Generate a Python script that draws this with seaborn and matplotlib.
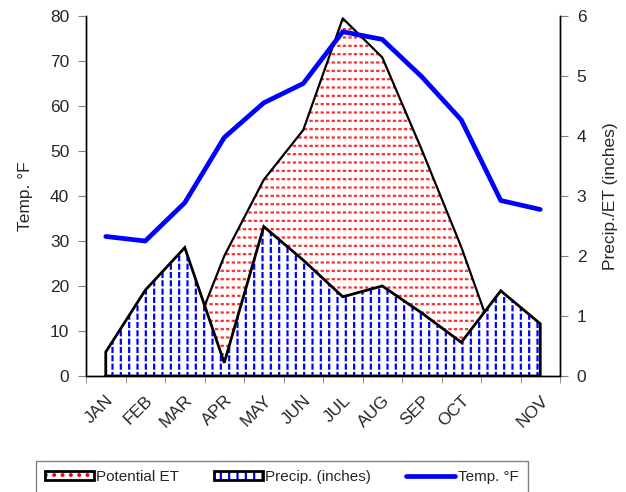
import numpy as np
import pandas as pd
import matplotlib
matplotlib.use('Agg')
import matplotlib.pyplot as plt
from matplotlib.patches import Patch
from matplotlib.lines import Line2D
import seaborn as sns

# Datos
meses = ['JAN', 'FEB', 'MAR', 'APR', 'MAY', 'JUN', 'JUL', 'AUG', 'SEP', 'OCT', '', 'NOV']
temp_f = [31.0, 30.0, 38.5, 53.0, 60.7, 65.0, 76.5, 74.8, 66.5, 56.9, 39.0, 37.0]
precip = [0.40, 1.43, 2.14, 0.22, 2.49, 1.93, 1.32, 1.50, 1.05, 0.56, 1.42, 0.87]
et_pot = [0.00, 0.10, 0.33, 2.00, 3.27, 4.10, 5.96, 5.31, 3.77, 2.15, 0.30, 0.20]

sns.set_style('ticks')
plt.rcParams['font.family'] = ['Liberation Sans', 'DejaVu Sans']
plt.rcParams['hatch.linewidth'] = 1.6

df = pd.DataFrame({'mes': meses, 'x': np.arange(len(meses)), 'temp': temp_f,
                   'precip': precip, 'et': et_pot})

fig = plt.figure(figsize=(6.26, 4.92), dpi=100)
ax = fig.add_axes([0.1374, 0.2358, 0.7572, 0.7317])
ax2 = ax.twinx()

# Areas en el eje derecho (trama roja cortada en trazos)
ax2.fill_between(df['x'], 0, df['et'], facecolor='white', edgecolor='#ff3030',
                 hatch='--', linewidth=0, zorder=1)
ax2.fill_between(df['x'], 0, df['et'], facecolor='none', edgecolor='white',
                 hatch='|||', linewidth=0, zorder=1.5)
ax2.plot(df['x'], df['et'], color='black', lw=1.6, zorder=2)
ax2.fill_between(df['x'], 0, df['precip'], facecolor='white', edgecolor='blue',
                 hatch='||', linewidth=0, zorder=3)
ax2.fill_between(df['x'], 0, df['precip'], facecolor='none', edgecolor='white',
                 hatch='--', linewidth=0, zorder=3)
borde_x = np.r_[df['x'].iloc[0], df['x'], df['x'].iloc[-1], df['x'].iloc[0]]
borde_y = np.r_[0, df['precip'], 0, 0]
ax2.plot(borde_x, borde_y, color='black', lw=2.0, zorder=4, solid_joinstyle='miter')

# Temperatura en el eje izquierdo, encima de las areas
sns.lineplot(data=df, x='x', y='temp', ax=ax, color='blue', lw=3.4, zorder=5)
ax.set_zorder(ax2.get_zorder() + 1)
ax.patch.set_visible(False)

ax.set_xlim(-0.5, len(meses) - 0.5)
ax.set_ylim(0, 80)
ax2.set_ylim(0, 6)
ax.set_yticks(range(0, 81, 10))
ax2.set_yticks(range(0, 7))

ax.set_xticks(df['x'])
ax.set_xticklabels(meses, rotation=45, ha='right', rotation_mode='anchor')
ax.set_xticks(np.arange(-0.5, len(meses)), minor=True)
ax.tick_params(axis='x', which='major', length=0, pad=12, labelsize=12.5)
ax.tick_params(axis='x', which='minor', length=5, color='grey', direction='out')
ax.tick_params(axis='y', length=6, color='grey', labelsize=12.5, pad=6)
ax2.tick_params(axis='y', length=6, color='grey', labelsize=12.5, pad=6)

ax.set_xlabel('')
ax.set_ylabel('Temp. °F', fontsize=12.5, labelpad=12)
ax2.set_ylabel('Precip./ET (inches)', fontsize=12.5, labelpad=12)

for a in (ax, ax2):
    a.spines['top'].set_visible(False)
    for s in ('left', 'right', 'bottom'):
        a.spines[s].set_color('black')
        a.spines[s].set_linewidth(1.0)

# Leyenda
h_et = (Patch(facecolor='white', edgecolor='red', hatch='..', lw=0),
        Patch(facecolor='none', edgecolor='black', lw=2))
h_pr = (Patch(facecolor='white', edgecolor='blue', hatch='||', lw=0),
        Patch(facecolor='none', edgecolor='black', lw=2))
h_t = Line2D([], [], color='blue', lw=3.4)
fig.legend([h_et, h_pr, h_t], ['Potential ET', 'Precip. (inches)', 'Temp. °F'],
           ncol=3, loc='center', bbox_to_anchor=(0.450, 0.031),
           fontsize=11, frameon=True, fancybox=False, edgecolor='grey',
           handlelength=3.2, handleheight=0.6, handletextpad=0.15,
           columnspacing=2.3, borderpad=0.6, framealpha=1)

fig.savefig('out.png', dpi=100)
